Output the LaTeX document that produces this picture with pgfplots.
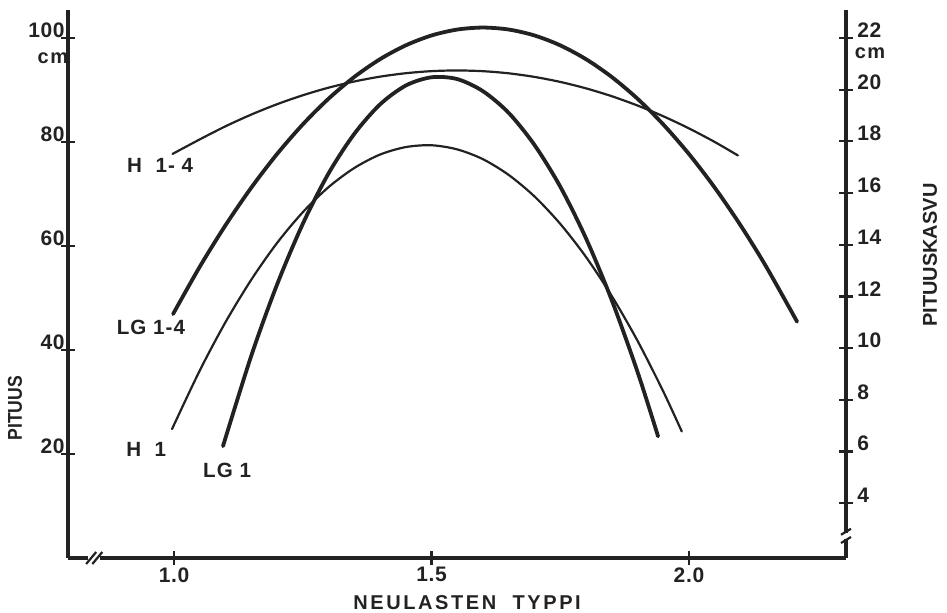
\documentclass[border=0pt]{standalone}
\usepackage{fontspec}
\setmainfont{Liberation Sans}
\usepackage{pgfplots}
\pgfplotsset{compat=1.18}
\definecolor{ink}{RGB}{34,34,34}
\newcommand{\lbl}{\fontsize{10.3}{12}\selectfont\bfseries\addfontfeature{LetterSpace=5}}
\newcommand{\ttl}[1]{\fontsize{10}{12}\selectfont\bfseries\addfontfeature{LetterSpace=#1}}
\newcommand{\num}{\fontsize{10.5}{12}\selectfont\bfseries\addfontfeature{LetterSpace=3}}

\begin{document}
\begin{tikzpicture}
\pgfplotsset{
  common/.style={
    scale only axis, width=389pt, height=274pt,
    xmin=0.794, xmax=2.305,
    axis line style={ink, line width=1.6pt, -},
    tick style={ink, line width=1.1pt},
    major tick length=7pt,
    tick align=center,
    /pgf/number format/assume math mode=true,
    ticklabel style={font=\num, text=ink},
    clip=false,
  },
  thinline/.style={ink, line width=1.1pt, smooth, line cap=round},
  thickline/.style={ink, line width=1.9pt, smooth, line cap=round},
}
% left axis: PITUUS (cm)
\begin{axis}[common,
  ymin=0, ymax=105.38,
  axis x line*=bottom, axis y line*=left,
  xtick={1,1.5,2}, xticklabels={1.0,1.5,2.0},
  xticklabel style={anchor=north, inner sep=0pt, yshift=-1pt},
  ytick={20,40,60,80,100}, yticklabels={20,40,60,80,100},
  yticklabel style={anchor=south east, inner sep=0pt, xshift=2pt},
]
% H 1-4
\addplot[thinline] coordinates {
  (0.997,77.7) (1.05,80.50) (1.10,83.02) (1.15,85.27) (1.20,87.26)
  (1.25,88.98) (1.30,90.44) (1.35,91.63) (1.40,92.56) (1.45,93.22)
  (1.50,93.62) (1.55,93.75) (1.60,93.61) (1.65,93.20) (1.70,92.51)
  (1.75,91.55) (1.80,90.31) (1.85,88.80) (1.90,87.01) (1.95,84.95)
  (2.00,82.61) (2.05,80.00) (2.095,77.41)
};
% LG 1-4
\addplot[thickline] coordinates {
  (0.998,46.9) (1.05,56.02) (1.10,64.00) (1.15,71.22) (1.20,77.68)
  (1.25,83.38) (1.30,88.32) (1.35,92.50) (1.40,95.92) (1.45,98.58)
  (1.50,100.48) (1.55,101.62) (1.60,102.00) (1.65,101.62) (1.70,100.48)
  (1.75,98.58) (1.80,95.92) (1.85,92.50) (1.90,88.32) (1.95,83.38)
  (2.00,77.68) (2.05,71.22) (2.10,64.00) (2.15,56.02) (2.21,45.44)
};
% curve names
\node[font=\lbl, text=ink] at (axis cs:0.973,75.4) {H\ \ 1-\ 4};
\node[font=\lbl, text=ink] at (axis cs:0.955,44.4) {LG\ 1-4};
\node[font=\lbl, text=ink] at (axis cs:0.946,20.8) {H\ \ 1};
\node[font=\lbl, text=ink] at (axis cs:1.103,16.9) {LG\ 1};
% unit and axis titles
\node[font=\ttl{8}, text=ink] at ([xshift=-7.5pt]axis cs:0.794,96.1) {cm};
\node[font=\ttl{0}, text=ink, rotate=90] at ([xshift=-26.5pt]axis cs:0.794,28.8) {\scalebox{0.88}[1]{PITUUS}};
\node[font=\ttl{13}, text=ink] at ([yshift=-22.5pt]axis cs:1.569,0) {NEULASTEN\ \ TYPPI};
% broken x axis
\fill[white] ([xshift=-1.5pt,yshift=-2pt]axis cs:0.839,0) rectangle ([xshift=1.5pt,yshift=2pt]axis cs:0.851,0);
\draw[ink, line width=1.1pt] ([xshift=-2.5pt,yshift=-3pt]axis cs:0.839,0) -- ([xshift=2.5pt,yshift=3pt]axis cs:0.839,0);
\draw[ink, line width=1.1pt] ([xshift=-2.5pt,yshift=-3pt]axis cs:0.851,0) -- ([xshift=2.5pt,yshift=3pt]axis cs:0.851,0);
\end{axis}
% right axis: PITUUSKASVU (cm)
\begin{axis}[common,
  ymin=1.884, ymax=23.083,
  axis x line=none, axis y line*=right,
  ytick={4,6,...,22},
  yticklabel style={anchor=south west, inner sep=0pt, xshift=2pt},
]
% H 1
\addplot[thinline] coordinates {
  (0.996,6.87) (1.05,9.14) (1.10,11.01) (1.15,12.65) (1.20,14.07)
  (1.25,15.26) (1.30,16.23) (1.35,16.97) (1.40,17.49) (1.45,17.78)
  (1.50,17.85) (1.55,17.69) (1.60,17.31) (1.65,16.70) (1.70,15.87)
  (1.75,14.81) (1.80,13.53) (1.85,12.02) (1.90,10.29) (1.95,8.33)
  (1.986,6.78)
};
% LG 1
\addplot[thickline] coordinates {
  (1.095,6.21) (1.15,9.71) (1.20,12.46) (1.25,14.81) (1.30,16.76)
  (1.35,18.29) (1.40,19.43) (1.45,20.16) (1.50,20.48) (1.55,20.41)
  (1.60,19.94) (1.65,19.10) (1.70,17.86) (1.75,16.25) (1.80,14.25)
  (1.85,11.86) (1.90,9.09) (1.94,6.59)
};
\node[font=\ttl{8}, text=ink] at ([xshift=12pt]axis cs:2.305,21.4) {cm};
\node[font=\ttl{0}, text=ink, rotate=90] at ([xshift=42pt]axis cs:2.305,13.6) {PITUUSKASVU};
% broken y axis
\fill[white] ([xshift=-2pt]axis cs:2.305,2.62) rectangle ([xshift=2pt]axis cs:2.305,2.86);
\draw[ink, line width=1.1pt] ([xshift=-2.5pt,yshift=-1.5pt]axis cs:2.305,2.90) -- ([xshift=2.5pt,yshift=1.5pt]axis cs:2.305,2.90);
\draw[ink, line width=1.1pt] ([xshift=-2.5pt,yshift=-1.5pt]axis cs:2.305,2.58) -- ([xshift=2.5pt,yshift=1.5pt]axis cs:2.305,2.58);
\end{axis}
\pgfresetboundingbox
\path[use as bounding box] (-34pt,-27.5pt) rectangle (439.5pt,279pt);
\end{tikzpicture}
\end{document}
